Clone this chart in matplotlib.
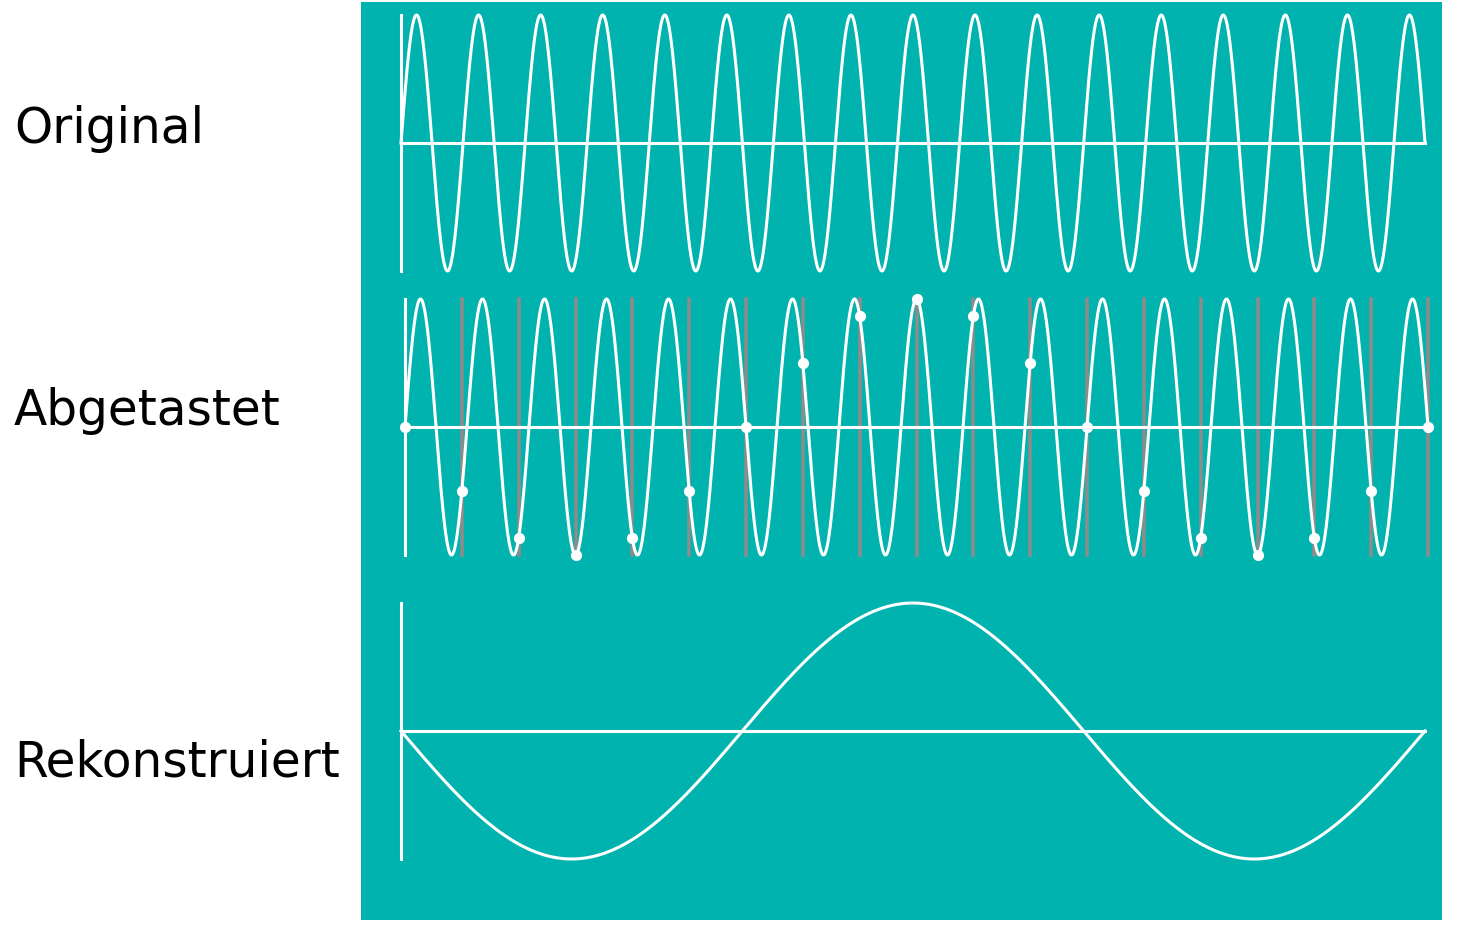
import numpy as np
import matplotlib.pyplot as plt
from matplotlib.patches import Rectangle

# signal settings
labels = ["Original", "Abgetastet", "Rekonstruiert"]
f_signal = 16.5      # cycles across the panel
n_samples = 19       # sample points incl. both ends
f_alias = 1.5        # cycles of the reconstructed (aliased) wave

teal = "#00b3ae"
W, H = 1461, 928

fig = plt.figure(figsize=(W / 100, H / 100), dpi=100)
fig.patch.set_facecolor("white")

# teal background box
bg = fig.add_axes([0, 0, 1, 1])
bg.set_xlim(0, W)
bg.set_ylim(H, 0)
bg.axis("off")
bg.add_patch(Rectangle((361, 3), 1081, 918, color=teal, lw=0))


def panel(left, right, top, bottom):
    ax = fig.add_axes([left / W, 1 - bottom / H, (right - left) / W, (bottom - top) / H])
    ax.set_xlim(0, 1)
    ax.set_ylim(-1, 1)
    ax.axis("off")
    ax.patch.set_alpha(0)
    return ax


t = np.linspace(0, 1, 4000)
lw = 2.2

# Original
ax1 = panel(401, 1425, 16, 272)
ax1.plot(t, np.sin(2 * np.pi * f_signal * t), color="white", lw=lw, clip_on=False)
ax1.plot([0, 1], [0, 0], color="white", lw=lw, clip_on=False)
ax1.plot([0, 0], [-1, 1], color="white", lw=lw, clip_on=False)

# Abgetastet
ax2 = panel(405, 1428, 300, 556)
ts = np.linspace(0, 1, n_samples)
ys = np.sin(2 * np.pi * f_signal * ts)
for x in ts[1:]:
    ax2.plot([x, x], [-1, 1], color="#8c8c8c", lw=2.6, clip_on=False, zorder=1)
ax2.plot(t, np.sin(2 * np.pi * f_signal * t), color="white", lw=lw, clip_on=False, zorder=2)
ax2.plot([0, 1], [0, 0], color="white", lw=lw, clip_on=False, zorder=2)
ax2.plot([0, 0], [-1, 1], color="white", lw=lw, clip_on=False, zorder=2)
ax2.scatter(ts, ys, s=65, color="white", zorder=3, clip_on=False, lw=0)

# Rekonstruiert
ax3 = panel(401, 1425, 604, 860)
ax3.plot(t, -np.sin(2 * np.pi * f_alias * t), color="white", lw=lw, clip_on=False)
ax3.plot([0, 1], [0, 0], color="white", lw=lw, clip_on=False)
ax3.plot([0, 0], [-1, 1], color="white", lw=lw, clip_on=False)

# labels on the left
for lab, y in zip(labels, [129, 411, 763]):
    bg.text(14, y, lab, fontsize=35, ha="left", va="center", color="black",
            family="DejaVu Sans")

fig.savefig("out.png", dpi=100, facecolor="white")
